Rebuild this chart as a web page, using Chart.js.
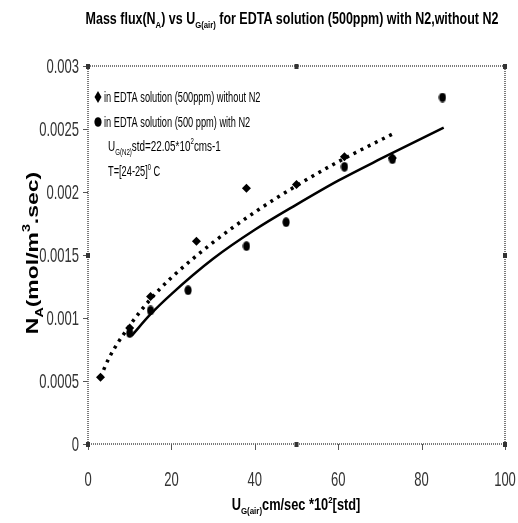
<!DOCTYPE html>
<html>
<head>
<meta charset="utf-8">
<script src="https://cdn.jsdelivr.net/npm/chart.js@4"></script>
<style>
  html, body { margin: 0; padding: 0; background: #fff; }
  #wrap { width: 518px; height: 523px; }
</style>
</head>
<body>
<div id="wrap"><canvas id="grafico" width="518" height="523"></canvas></div>
<script>
// valores
var xSinN2 = [3, 10, 15, 26, 38, 50, 61.5, 73];
var ySinN2 = [0.00053, 0.00092, 0.00117, 0.00161, 0.00203, 0.00206, 0.00228, 0.00227];
var xConN2 = [10, 15, 24, 38, 47.5, 61.5, 73, 85];
var yConN2 = [0.00088, 0.00106, 0.00122, 0.00157, 0.00176, 0.0022, 0.00226, 0.00275];

var xTendSin = [3, 5, 10, 15, 20, 30, 40, 50, 60, 73];
var yTendSin = [0.00053, 0.00068, 0.00094, 0.00115, 0.00132, 0.0016, 0.00184, 0.00205, 0.00224, 0.00246];
var xTendCon = [10.5, 15, 20, 30, 40, 50, 60, 70, 85.3];
var yTendCon = [0.00086, 0.00103, 0.00119, 0.00147, 0.0017, 0.0019, 0.00209, 0.00226, 0.00251];

var xTicks = [0, 20, 40, 60, 80, 100];
var yTicks = [0, 0.0005, 0.001, 0.0015, 0.002, 0.0025, 0.003];
var yTickLabels = ['0', '0.0005', '0.001', '0.0015', '0.002', '0.0025', '0.003'];

function pares(xs, ys) {
    return xs.map(function (x, i) { return { x: x, y: ys[i] }; });
}

var FUENTE = '"Liberation Sans", Arial, sans-serif';

// punto ovalado (los circulos del original estan algo estirados)
var ovalo = document.createElement('canvas');
ovalo.width = 8; ovalo.height = 10;
(function () {
    var c = ovalo.getContext('2d');
    c.fillStyle = '#000';
    c.beginPath();
    c.ellipse(4, 5, 3.6, 4.8, 0, 0, Math.PI * 2);
    c.fill();
})();

// dibuja texto con subindices / superindices, estrechado horizontalmente
function textoRico(ctx, partes, x, y, size, bold, sx, align, color) {
    ctx.save();
    ctx.fillStyle = color || '#000';
    ctx.textBaseline = 'alphabetic';
    ctx.textAlign = 'left';
    var ancho = 0;
    partes.forEach(function (p) {
        var s = p.s ? size * 0.62 : size;
        ctx.font = (bold ? 'bold ' : '') + s + 'px ' + FUENTE;
        p.w = ctx.measureText(p.t).width;
        ancho += p.w;
    });
    var x0 = 0;
    if (align === 'center') x0 = -ancho / 2;
    if (align === 'right') x0 = -ancho;
    ctx.translate(x, y);
    ctx.scale(sx, 1);
    partes.forEach(function (p) {
        var s = p.s ? size * 0.62 : size;
        ctx.font = (bold ? 'bold ' : '') + s + 'px ' + FUENTE;
        var dy = 0;
        if (p.s === 'sub') dy = size * 0.28;
        if (p.s === 'sup') dy = -size * 0.45;
        ctx.fillText(p.t, x0, dy);
        x0 += p.w;
    });
    ctx.restore();
}

var decoracion = {
    id: 'decoracion',
    afterDraw: function (chart) {
        var ctx = chart.ctx;
        var a = chart.chartArea;
        var xs = chart.scales.x, ys = chart.scales.y;

        // marco punteado
        ctx.save();
        ctx.strokeStyle = '#7a7a7a';
        ctx.lineWidth = 2;
        ctx.setLineDash([1, 1]);
        ctx.strokeRect(a.left, a.top, a.right - a.left, a.bottom - a.top);
        ctx.setLineDash([]);

        // marcas de los ejes
        ctx.strokeStyle = '#555';
        ctx.lineWidth = 1;
        xTicks.forEach(function (v) {
            var px = Math.round(xs.getPixelForValue(v)) + 0.5;
            ctx.beginPath();
            ctx.moveTo(px, a.bottom);
            ctx.lineTo(px, a.bottom + 6);
            ctx.stroke();
        });
        yTicks.forEach(function (v) {
            var py = Math.round(ys.getPixelForValue(v)) + 0.5;
            ctx.beginPath();
            ctx.moveTo(a.left - 5, py);
            ctx.lineTo(a.left, py);
            ctx.stroke();
        });

        // pequeños cuadros de seleccion
        ctx.fillStyle = '#333';
        var midY = ys.getPixelForValue(0.0015), midX = xs.getPixelForValue(50);
        [[a.left, a.top], [a.right, a.top], [a.left, a.bottom], [a.right, a.bottom],
         [a.left, midY], [a.right, midY], [midX, a.top], [midX, a.bottom]].forEach(function (p) {
            ctx.fillRect(p[0] - 2, p[1] - 2, 4, 5);
        });
        ctx.restore();

        // etiquetas de los ejes
        xTicks.forEach(function (v) {
            textoRico(ctx, [{ t: String(v) }], xs.getPixelForValue(v), 486, 21, false, 0.62, 'center', '#333');
        });
        yTicks.forEach(function (v, i) {
            textoRico(ctx, [{ t: yTickLabels[i] }], a.left - 9, ys.getPixelForValue(v) + 7, 21, false, 0.62, 'right', '#333');
        });

        // titulo
        textoRico(ctx, [
            { t: 'Mass flux(N' }, { t: 'A', s: 'sub' }, { t: ') vs U' }, { t: 'G(air)', s: 'sub' },
            { t: ' for EDTA solution (500ppm) with N2,without N2' }
        ], 292, 24, 16, true, 0.78, 'center');

        // titulo eje x
        textoRico(ctx, [
            { t: 'U' }, { t: 'G(air)', s: 'sub' }, { t: 'cm/sec *10' }, { t: '2', s: 'sup' }, { t: '[std]' }
        ], 296, 510, 16, true, 0.8, 'center');

        // titulo eje y
        ctx.save();
        ctx.translate(38, 253);
        ctx.rotate(-Math.PI / 2);
        textoRico(ctx, [
            { t: 'N' }, { t: 'A', s: 'sub' }, { t: '(mol/m' }, { t: '3', s: 'sup' }, { t: '.sec)' }
        ], 0, 0, 17, true, 1.35, 'center');
        ctx.restore();

        // leyenda dentro del grafico
        textoRico(ctx, [{ t: 'in EDTA solution (500ppm) without N2' }], 104, 102, 14, false, 0.66, 'left');
        textoRico(ctx, [{ t: 'in EDTA solution (500 ppm) with N2' }], 104, 127, 14, false, 0.66, 'left');
        textoRico(ctx, [{ t: 'U' }, { t: 'G(N2)', s: 'sub' }, { t: 'std=22.05*10' }, { t: '2', s: 'sup' }, { t: 'cms-1' }],
            108, 151, 15, false, 0.66, 'left');
        textoRico(ctx, [{ t: 'T=[24-25]' }, { t: '0', s: 'sup' }, { t: ' C' }], 108, 176, 14, false, 0.66, 'left');

        ctx.save();
        ctx.fillStyle = '#000';
        ctx.beginPath();
        ctx.moveTo(98, 91); ctx.lineTo(101.5, 97); ctx.lineTo(98, 103); ctx.lineTo(94.5, 97);
        ctx.closePath(); ctx.fill();
        ctx.drawImage(ovalo, 94, 117);
        ctx.restore();
    }
};

new Chart(document.getElementById('grafico'), {
    type: 'scatter',
    data: {
        datasets: [
            {
                label: 'tendencia sin N2',
                data: pares(xTendSin, yTendSin),
                showLine: true,
                borderColor: '#000',
                borderWidth: 3.5,
                borderDash: [3, 5],
                pointRadius: 0,
                cubicInterpolationMode: 'monotone'
            },
            {
                label: 'tendencia con N2',
                data: pares(xTendCon, yTendCon),
                showLine: true,
                borderColor: '#000',
                borderWidth: 2.5,
                pointRadius: 0,
                cubicInterpolationMode: 'monotone'
            },
            {
                label: 'in EDTA solution (500ppm) without N2',
                data: pares(xSinN2, ySinN2),
                pointStyle: 'rectRot',
                pointRadius: 4.5,
                backgroundColor: '#000',
                borderColor: '#000',
                borderWidth: 0
            },
            {
                label: 'in EDTA solution (500 ppm) with N2',
                data: pares(xConN2, yConN2),
                pointStyle: ovalo,
                pointRadius: 4,
                backgroundColor: '#000',
                borderColor: '#000',
                borderWidth: 0
            }
        ]
    },
    options: {
        responsive: false,
        animation: false,
        events: [],
        layout: { padding: { top: 66, right: 13, left: 0, bottom: 0 } },
        plugins: {
            legend: { display: false },
            tooltip: { enabled: false },
            title: { display: false }
        },
        scales: {
            x: {
                type: 'linear',
                min: 0,
                max: 100,
                ticks: { display: false, stepSize: 20 },
                grid: { display: false },
                border: { display: false },
                afterFit: function (s) { s.height = 79; }
            },
            y: {
                type: 'linear',
                min: 0,
                max: 0.003,
                ticks: { display: false, stepSize: 0.0005 },
                grid: { display: false },
                border: { display: false },
                afterFit: function (s) { s.width = 88; }
            }
        }
    },
    plugins: [decoracion]
});
</script>
</body>
</html>
